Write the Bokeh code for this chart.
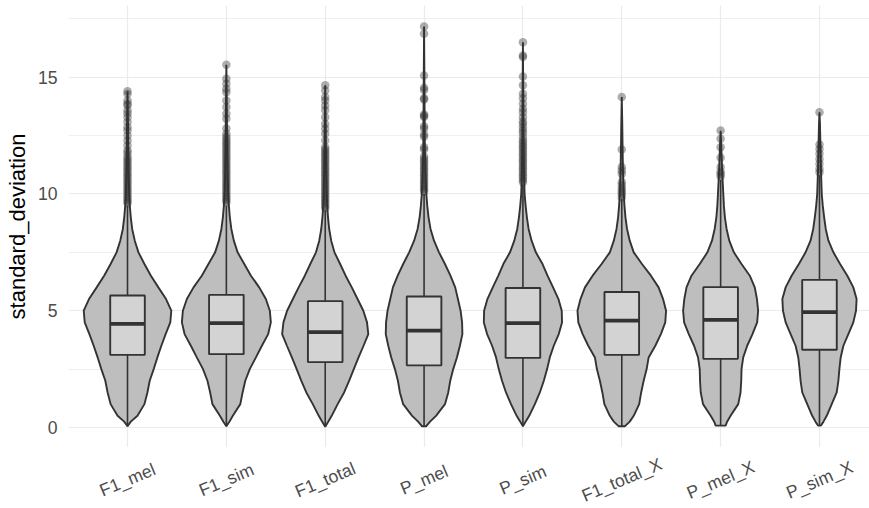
import math
from bokeh.plotting import figure
from bokeh.layouts import column
from bokeh.models import Range1d, FixedTicker, ColumnDataSource, LabelSet
from bokeh.core.properties import value
from bokeh.embed import file_html
from bokeh.resources import INLINE

categories = ["F1_mel", "F1_sim", "F1_total", "P_mel", "P_sim", "F1_total_X", "P_mel_X", "P_sim_X"]

# density estimate (arbitrary units) at these standard_deviation levels
density_levels = [0, 0.25, 0.5, 1, 1.5, 2, 2.5, 3, 3.5, 4, 4.5, 5, 5.5, 6, 6.5, 7, 7.5, 8, 8.5, 9, 9.5, 10, 11, 12, 13]
dens_F1_mel = [0, 3.3, 10, 17, 20, 22.3, 26.3, 30, 34, 38.3, 43, 44, 38.7, 31, 23.5, 17, 11, 7.3, 4.7, 3.3, 2.3, 1.7, 1.0, 0.7, 0.5]
dens_F1_sim = [0, 3, 6.5, 14, 16.3, 19, 23.5, 29.7, 35.7, 42, 44.7, 43.7, 39.7, 33, 24.7, 18, 11.3, 7.5, 5, 3.5, 2.5, 1.8, 1.2, 0.8, 0.6]
dens_F1_total = [0, 3, 6.5, 12.5, 19, 24, 28.7, 33.5, 38.5, 43.3, 42, 38.3, 32.5, 26.7, 20.5, 15, 9.3, 6, 4, 2.8, 2, 1.5, 1, 0.7, 0.5]
dens_P_mel = [2, 6, 12, 21, 24.3, 26.3, 29.3, 33, 36, 38.5, 38.2, 36.7, 34, 31.3, 26.5, 21, 15, 10, 6.5, 4.5, 3.2, 2.3, 1.3, 0.8, 0.6]
dens_P_sim = [0, 2.7, 6.3, 12, 17, 21, 24.3, 27, 31, 36, 39.3, 39, 35.7, 30.3, 24.7, 19.7, 13, 8.7, 5.7, 4, 2.7, 1.7, 1, 0.7, 0.5]
dens_F1_total_X = [3, 8, 12, 17.5, 19.5, 22, 25, 27, 33.7, 39.3, 43.7, 44.5, 41.5, 37, 29.3, 20.3, 12, 8, 5.3, 3.7, 2.7, 2, 1.2, 0.8, 0.5]
dens_P_mel_X = [5, 6.5, 10, 17.7, 20, 20.7, 21, 22.7, 26.7, 32, 36.7, 37.7, 36.5, 34.3, 29.3, 21, 13.3, 8.7, 6, 4.3, 3.3, 2.7, 1.5, 0.7, 0.4]
dens_P_sim_X = [1.5, 4, 7.3, 12.3, 17.3, 19, 20, 21.3, 24, 29, 34, 36.7, 37.3, 34, 28, 20.7, 14, 9, 6.3, 4.7, 3.3, 2.3, 1.5, 1, 0.5]
densities = [dens_F1_mel, dens_F1_sim, dens_F1_total, dens_P_mel, dens_P_sim,
             dens_F1_total_X, dens_P_mel_X, dens_P_sim_X]

max_values = [14.40, 15.53, 14.65, 17.17, 16.50, 14.15, 12.70, 13.50]
min_values = [0.05, 0.05, 0.03, 0.05, 0.05, 0.05, 0.08, 0.08]

q1 = [3.11, 3.14, 2.80, 2.66, 2.98, 3.11, 2.94, 3.33]
median = [4.44, 4.47, 4.08, 4.15, 4.47, 4.58, 4.61, 4.94]
q3 = [5.65, 5.68, 5.41, 5.61, 5.97, 5.80, 6.01, 6.32]
whisker_high = [9.50, 9.50, 9.30, 10.00, 10.40, 9.80, 10.60, 10.80]

outliers_F1_mel = [14.40, 14.28, 14.0, 13.86, 13.8, 13.58, 13.45, 13.29, 13.08, 12.86, 12.72, 12.5,
                   12.29, 12.08, 11.86, 11.75, 11.6, 11.5, 11.4, 11.3, 11.2, 11.1, 11.0, 10.9, 10.8,
                   10.7, 10.6, 10.5, 10.4, 10.3, 10.2, 10.1, 10.0, 9.9, 9.8, 9.7, 9.6]
outliers_F1_sim = [15.53, 14.93, 14.72, 14.5, 14.36, 14.0, 13.72, 13.43, 13.22, 12.8, 12.58, 12.45,
                   12.35, 12.25, 12.15, 12.05, 11.95, 11.85, 11.75, 11.65, 11.55, 11.45, 11.35, 11.25,
                   11.15, 11.05, 10.95, 10.85, 10.75, 10.65, 10.55, 10.45, 10.35, 10.25, 10.15, 10.05,
                   9.95, 9.85, 9.75, 9.65]
outliers_F1_total = [14.65, 14.43, 14.15, 14.0, 13.79, 13.58, 13.29, 13.0, 12.79, 12.58, 12.29, 12.0,
                     11.9, 11.8, 11.7, 11.6, 11.5, 11.4, 11.3, 11.2, 11.1, 11.0, 10.9, 10.8, 10.7,
                     10.6, 10.5, 10.4, 10.3, 10.2, 10.1, 10.0, 9.9, 9.8, 9.7, 9.6, 9.5, 9.4]
outliers_P_mel = [17.17, 16.86, 15.07, 14.55, 14.45, 14.1, 14.05, 13.4, 13.35, 13.3, 12.9, 12.8,
                  12.55, 12.45, 12.0, 11.9, 11.6, 11.5, 11.4, 11.3, 11.2, 11.1, 11.0, 10.9, 10.8,
                  10.7, 10.6, 10.5, 10.4, 10.3, 10.2, 10.1]
outliers_P_sim = [16.5, 15.93, 15.86, 15.03, 14.65, 14.29, 14.1, 13.86, 13.65, 13.5, 13.29, 13.1,
                  13.0, 12.85, 12.72, 12.6, 12.43, 12.3, 12.2, 12.1, 12.0, 11.9, 11.8, 11.7, 11.6,
                  11.5, 11.4, 11.3, 11.2, 11.1, 11.0, 10.9, 10.8, 10.7, 10.6, 10.5]
outliers_F1_total_X = [14.15, 11.9, 11.15, 11.0, 10.86, 10.5, 10.36, 10.22, 10.1, 10.0, 9.86]
outliers_P_mel_X = [12.72, 12.36, 12.0, 11.55, 11.15, 10.95, 10.86, 10.75]
outliers_P_sim_X = [13.5, 12.12, 11.93, 11.72, 11.5, 11.29, 11.08, 10.93]
outliers = [outliers_F1_mel, outliers_F1_sim, outliers_F1_total, outliers_P_mel, outliers_P_sim,
            outliers_F1_total_X, outliers_P_mel_X, outliers_P_sim_X]

y_ticks = [0, 5, 10, 15]
y_minor = [2.5, 7.5, 12.5, 17.5]

VIOLIN_WIDTH = 0.9
BOX_WIDTH = 0.35
DARK = "#333333"
FONT = "Liberation Sans"

positions = list(range(1, len(categories) + 1))

p = figure(width=869, height=447, output_backend="svg", toolbar_location=None,
           x_range=Range1d(0.403, 8.506), y_range=Range1d(-0.857, 18.07),
           min_border_left=68, min_border_right=0, min_border_top=5, min_border_bottom=0)
p.outline_line_color = None
p.background_fill_color = "white"
p.border_fill_color = "white"

# violins (area scaled: largest density -> full width)
dmax = max(max(d) for d in densities)
vxs, vys = [], []
for pos, dens, vmin, vmax in zip(positions, densities, min_values, max_values):
    lv = [vmin] + [l for l in density_levels[1:] if l < vmax] + [vmax]
    dd = [dens[0]] + [d for l, d in zip(density_levels[1:], dens[1:]) if l < vmax] + [0.0]
    hw = [d / dmax * VIOLIN_WIDTH / 2 for d in dd]
    xs = [pos + h for h in hw] + [pos - h for h in reversed(hw)]
    ys = lv + list(reversed(lv))
    vxs.append(xs)
    vys.append(ys)
p.patches(xs="xs", ys="ys", source=ColumnDataSource(dict(xs=vxs, ys=vys)),
          fill_color="#bebebe", line_color=DARK, line_width=1.9)

# whiskers
p.segment(x0=positions, y0=q3, x1=positions, y1=whisker_high, line_color=DARK, line_width=1.6)
p.segment(x0=positions, y0=q1, x1=positions, y1=min_values, line_color=DARK, line_width=1.6)

# boxes
p.vbar(x=positions, width=BOX_WIDTH, bottom=q1, top=q3, fill_color="#d3d3d3",
       line_color=DARK, line_width=1.9)
p.segment(x0=[x - BOX_WIDTH / 2 for x in positions], y0=median,
          x1=[x + BOX_WIDTH / 2 for x in positions], y1=median,
          line_color=DARK, line_width=3.8)

# outliers
ox, oy = [], []
for pos, vals in zip(positions, outliers):
    ox += [pos] * len(vals)
    oy += vals
p.scatter(x=ox, y=oy, size=8.5, fill_color=DARK, fill_alpha=0.4, line_color=None)

# axes
p.xaxis.visible = False
p.xgrid.ticker = FixedTicker(ticks=positions)
p.yaxis.ticker = FixedTicker(ticks=y_ticks, minor_ticks=y_minor)
p.ygrid.ticker = FixedTicker(ticks=y_ticks, minor_ticks=y_minor)
p.yaxis.axis_label = "standard_deviation"
ax = p.yaxis[0]
ax.axis_line_color = None
ax.major_tick_line_color = None
ax.minor_tick_line_color = None
ax.major_tick_out = 0
ax.major_tick_in = 0
ax.minor_tick_out = 0
ax.minor_tick_in = 0
ax.major_label_text_font = FONT
ax.major_label_text_font_size = "17.6px"
ax.major_label_text_color = "#4d4d4d"
ax.major_label_standoff = 11
ax.axis_label_text_font = FONT
ax.axis_label_text_font_size = "22px"
ax.axis_label_text_font_style = "normal"
ax.axis_label_text_color = "black"
ax.axis_label_standoff = 5

p.xgrid.grid_line_color = "#ebebeb"
p.xgrid.grid_line_width = 1.2
p.ygrid.grid_line_color = "#ebebeb"
p.ygrid.grid_line_width = 1.2
p.ygrid.minor_grid_line_color = "#ebebeb"
p.ygrid.minor_grid_line_width = 0.8

# strip below the panel holding the tilted category labels (shares the x scale)
lab = figure(width=869, height=61, output_backend="svg", toolbar_location=None,
             x_range=p.x_range, y_range=Range1d(0, 1),
             min_border_left=68, min_border_right=0, min_border_top=0, min_border_bottom=0)
lab.axis.visible = False
lab.grid.visible = False
lab.outline_line_color = None
lab.background_fill_color = "white"
lab.border_fill_color = "white"
cat_src = ColumnDataSource(dict(x=positions, y=[0.47] * len(positions), text=categories))
lab.add_layout(LabelSet(x="x", y="y", text="text", source=cat_src, angle=math.radians(23),
                        text_align="center", text_baseline="middle", text_font=value(FONT),
                        text_font_size=value("17.6px"), text_color="#4d4d4d"))

layout = column(p, lab, spacing=0)
open("out.html", "w").write(file_html(layout, INLINE))
